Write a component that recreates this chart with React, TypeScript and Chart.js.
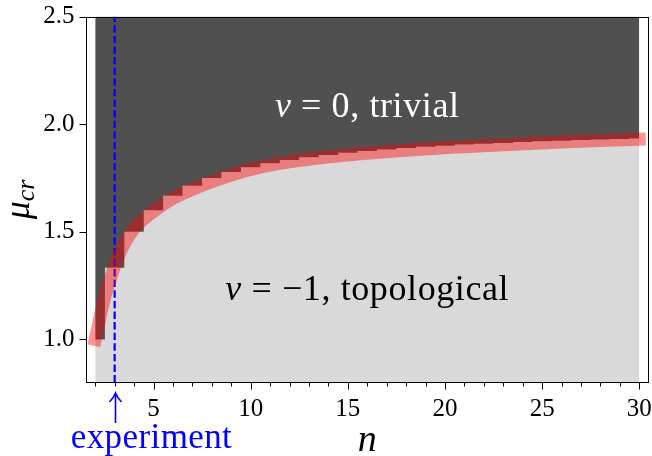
import React, { useEffect, useRef } from 'react';
import { Chart, registerables } from 'chart.js';

Chart.register(...registerables);

// ---- data ----
const N_VALUES = [2, 3, 4, 5, 6, 7, 8, 9, 10, 11, 12, 13, 14, 15, 16, 17, 18, 19, 20, 21, 22, 23, 24, 25, 26, 27, 28, 29, 30];
const MU_CR_STEPS = [1.0, 1.333, 1.5, 1.6, 1.667, 1.714, 1.75, 1.778, 1.8, 1.818, 1.833, 1.846, 1.857, 1.867, 1.875, 1.882, 1.889, 1.895, 1.9, 1.905, 1.909, 1.913, 1.917, 1.92, 1.923, 1.926, 1.929, 1.931, 1.933];

const CURVE_N = [2, 2.5, 3, 3.5, 4, 5, 6, 7, 8, 10, 12, 15, 18, 22, 26, 30];
const CURVE_MU = [1.0, 1.2, 1.34, 1.445, 1.515, 1.595, 1.655, 1.697, 1.733, 1.79, 1.825, 1.857, 1.879, 1.9, 1.917, 1.93];

const EXPERIMENT_N = 3;

const X_MAJOR_TICKS = [5, 10, 15, 20, 25, 30];
const X_MINOR_TICKS = [2, 3, 4, 6, 7, 8, 9, 11, 12, 13, 14, 16, 17, 18, 19, 21, 22, 23, 24, 26, 27, 28, 29];
const Y_TICKS = [1.0, 1.5, 2.0, 2.5];

const X_MIN = 1.5;
const X_MAX = 30.5;
const Y_MIN = 0.8;
const Y_MAX = 2.5;

const SERIF = '"Liberation Serif", "Times New Roman", serif';

type Part = [string, string];

function drawParts(ctx: CanvasRenderingContext2D, parts: Part[], cx: number, baseline: number, color: string, spacing = 0) {
  (ctx as any).letterSpacing = spacing + 'px';
  let total = 0;
  const widths = parts.map(([t, f]) => {
    ctx.font = f;
    const w = ctx.measureText(t).width;
    total += w;
    return w;
  });
  let x = cx - total / 2;
  ctx.fillStyle = color;
  ctx.textBaseline = 'alphabetic';
  ctx.textAlign = 'left';
  parts.forEach(([t, f], i) => {
    ctx.font = f;
    ctx.fillText(t, x, baseline);
    x += widths[i];
  });
  (ctx as any).letterSpacing = '0px';
}

const decorPlugin = {
  id: 'decor',
  afterDraw(chart: any) {
    const ctx: CanvasRenderingContext2D = chart.ctx;
    const area = chart.chartArea;
    const xs = chart.scales.x;
    const ys = chart.scales.y;
    ctx.save();
    // frame
    const L = Math.round(area.left) + 0.5;
    const R = Math.round(area.right) - 0.5;
    const T = Math.round(area.top) + 0.5;
    const B = Math.round(area.bottom) - 0.5;
    ctx.strokeStyle = '#000';
    ctx.lineWidth = 1;
    ctx.strokeRect(L, T, R - L, B - T);
    // ticks
    ctx.beginPath();
    X_MAJOR_TICKS.forEach((v) => {
      const px = Math.round(xs.getPixelForValue(v)) + 0.5;
      ctx.moveTo(px, B);
      ctx.lineTo(px, B + 7);
    });
    X_MINOR_TICKS.forEach((v) => {
      const px = Math.round(xs.getPixelForValue(v)) + 0.5;
      ctx.moveTo(px, B);
      ctx.lineTo(px, B + 4);
    });
    Y_TICKS.forEach((v) => {
      const py = Math.round(ys.getPixelForValue(v)) + 0.5;
      ctx.moveTo(L, py);
      ctx.lineTo(L - 7, py);
    });
    ctx.stroke();

    // region texts
    const cx = (area.left + area.right) / 2;
    drawParts(ctx, [
      ['ν', 'italic 36px ' + SERIF],
      [' = ', '36px ' + SERIF],
      ['0, trivial', '36px ' + SERIF],
    ], cx, 116.5, '#ffffff', 0.6);
    drawParts(ctx, [
      ['ν', 'italic 36px ' + SERIF],
      [' = ', '36px ' + SERIF],
      ['−1, topological', '36px ' + SERIF],
    ], cx, 300, '#000000', 0.6);

    // experiment arrow + label
    const ex = Math.round(xs.getPixelForValue(EXPERIMENT_N)) + 0.5;
    ctx.strokeStyle = '#0000ff';
    ctx.lineWidth = 1.6;
    ctx.beginPath();
    ctx.moveTo(ex, 423);
    ctx.lineTo(ex, 394);
    ctx.moveTo(ex - 6, 402);
    ctx.quadraticCurveTo(ex - 2, 398, ex, 393);
    ctx.quadraticCurveTo(ex + 2, 398, ex + 6, 402);
    ctx.stroke();
    drawParts(ctx, [['experiment', '35px ' + SERIF]], 151.5, 448, '#0000ff', 0.4);

    // x label
    drawParts(ctx, [['n', 'italic 38px ' + SERIF]], cx, 451, '#000000');

    // y label (rotated)
    ctx.translate(29, (area.top + area.bottom) / 2);
    ctx.rotate(-Math.PI / 2);
    ctx.font = 'italic 36px ' + SERIF;
    const wMu = ctx.measureText('μ').width;
    ctx.font = 'italic 26px ' + SERIF;
    const wCr = ctx.measureText('cr').width;
    const start = -(wMu + wCr) / 2;
    ctx.fillStyle = '#000';
    ctx.textAlign = 'left';
    ctx.textBaseline = 'alphabetic';
    ctx.font = 'italic 36px ' + SERIF;
    ctx.fillText('μ', start, 0);
    ctx.font = 'italic 26px ' + SERIF;
    ctx.fillText('cr', start + wMu, 5);
    ctx.restore();
  },
};

export default function App() {
  const canvasRef = useRef<HTMLCanvasElement>(null);

  useEffect(() => {
    document.body.style.margin = '0';
    const canvas = canvasRef.current;
    if (!canvas) return;
    const stepData = N_VALUES.map((n, i) => ({ x: n, y: MU_CR_STEPS[i] }));
    const curveData = CURVE_N.map((n, i) => ({ x: n, y: CURVE_MU[i] }));
    const expData = [
      { x: EXPERIMENT_N, y: Y_MIN },
      { x: EXPERIMENT_N, y: Y_MAX },
    ];

    const chart = new Chart(canvas, {
      type: 'scatter',
      data: {
        datasets: [
          {
            data: curveData,
            showLine: true,
            borderColor: 'rgba(255,0,0,0.42)',
            borderWidth: 13,
            borderCapStyle: 'square',
            cubicInterpolationMode: 'monotone',
            pointRadius: 0,
            fill: false,
            order: 0,
          },
          {
            data: expData,
            showLine: true,
            borderColor: '#0000ff',
            borderWidth: 2.2,
            borderDash: [7.4, 3.2],
            pointRadius: 0,
            fill: false,
            order: 1,
          },
          {
            data: stepData,
            showLine: true,
            stepped: 'middle',
            borderWidth: 0,
            borderColor: 'rgba(0,0,0,0)',
            backgroundColor: '#505050',
            pointRadius: 0,
            fill: 'end',
            order: 2,
          },
          {
            data: stepData,
            showLine: true,
            stepped: 'middle',
            borderWidth: 0,
            borderColor: 'rgba(0,0,0,0)',
            backgroundColor: '#d9d9d9',
            pointRadius: 0,
            fill: 'start',
            order: 3,
          },
        ],
      },
      options: {
        animation: false,
        responsive: false,
        devicePixelRatio: 1,
        layout: { padding: { top: 16.5, right: 3, left: 0, bottom: 0 } },
        plugins: { legend: { display: false }, tooltip: { enabled: false } },
        scales: {
          x: {
            type: 'linear',
            min: X_MIN,
            max: X_MAX,
            afterBuildTicks: (scale: any) => {
              scale.ticks = X_MAJOR_TICKS.map((v) => ({ value: v }));
            },
            afterFit: (scale: any) => {
              scale.height = 73.5;
              scale.paddingLeft = 0;
              scale.paddingRight = 0;
            },
            grid: { display: true, drawOnChartArea: false, drawTicks: true, tickLength: 7, color: 'rgba(0,0,0,0)' },
            border: { display: false },
            ticks: {
              color: '#000',
              padding: 5,
              maxRotation: 0,
              autoSkip: false,
              font: { family: SERIF, size: 25 },
              callback: (v: any) => String(v),
            },
          },
          y: {
            type: 'linear',
            min: Y_MIN,
            max: Y_MAX,
            afterBuildTicks: (scale: any) => {
              scale.ticks = Y_TICKS.map((v) => ({ value: v }));
            },
            afterFit: (scale: any) => {
              scale.width = 85.5;
              scale.paddingTop = 0;
              scale.paddingBottom = 0;
            },
            grid: { display: true, drawOnChartArea: false, drawTicks: true, tickLength: 7, color: 'rgba(0,0,0,0)' },
            border: { display: false },
            ticks: {
              color: '#000',
              padding: 4,
              autoSkip: false,
              font: { family: SERIF, size: 25 },
              callback: (v: any) => Number(v).toFixed(1),
            },
          },
        },
      },
      plugins: [decorPlugin],
    } as any);
    return () => chart.destroy();
  }, []);

  return (
    <div style={{ width: 652, height: 456 }}>
      <canvas ref={canvasRef} width={652} height={456} style={{ display: 'block' }} />
    </div>
  );
}
